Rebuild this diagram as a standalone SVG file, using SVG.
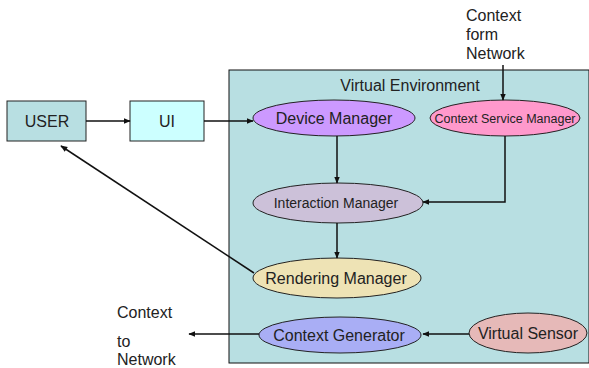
<svg xmlns="http://www.w3.org/2000/svg" width="589" height="368" viewBox="0 0 589 368">
<style>
text{font-family:"Liberation Sans",Arial,sans-serif;fill:#222;font-size:16px}
.c{text-anchor:middle}
.n{stroke:#222;stroke-width:1}
.e{stroke:#111;stroke-width:1.5;fill:none}
</style>
<defs>
<marker id="ah" viewBox="0 0 10 10" refX="9" refY="5" markerWidth="7" markerHeight="7" markerUnits="userSpaceOnUse" orient="auto">
<path d="M0,1 L10,5 L0,9 z" fill="#111"/>
</marker>
</defs>
<g id="virtual-environment">
<rect x="229" y="70" width="360" height="293" fill="#b8dfe2" stroke="#111" stroke-width="1"/>
<text class="c" x="410" y="91">Virtual Environment</text>
</g>
<g id="user"><rect class="n" x="7" y="101" width="79" height="40" fill="#b8dfe2"/><text class="c" x="47" y="127">USER</text></g>
<g id="ui"><rect class="n" x="130" y="101" width="74" height="40" fill="#ccffff"/><text class="c" x="167" y="127">UI</text></g>
<g id="device-manager"><ellipse class="n" cx="334" cy="118" rx="81" ry="18" fill="#cc99ff"/><text class="c" x="334" y="124">Device Manager</text></g>
<g id="context-service-manager"><ellipse class="n" cx="505" cy="118" rx="75" ry="18" fill="#ff99cc"/><text class="c" x="505" y="123" style="font-size:12.5px">Context Service Manager</text></g>
<g id="interaction-manager"><ellipse class="n" cx="338" cy="203" rx="85" ry="20" fill="#ccc1d9"/><text class="c" x="336" y="208" style="font-size:14px">Interaction Manager</text></g>
<g id="rendering-manager"><ellipse class="n" cx="337" cy="278" rx="84" ry="20" fill="#eee3b5"/><text class="c" x="336" y="284">Rendering Manager</text></g>
<g id="context-generator"><ellipse class="n" cx="340" cy="335" rx="81" ry="18" fill="#a9aef5"/><text class="c" x="339" y="341">Context Generator</text></g>
<g id="virtual-sensor"><ellipse class="n" cx="528" cy="333" rx="59" ry="20" fill="#e6b9b8"/><text class="c" x="528" y="339">Virtual Sensor</text></g>
<g id="context-from-network">
<text x="466" y="21">Context</text><text x="466" y="40">form</text><text x="466" y="59">Network</text>
</g>
<g id="context-to-network">
<text x="117" y="318">Context</text><text x="117" y="347">to</text><text x="117" y="365">Network</text>
</g>
<g id="connectors">
<line class="e" x1="86" y1="121" x2="130" y2="121" marker-end="url(#ah)"/>
<line class="e" x1="204" y1="121" x2="253" y2="121" marker-end="url(#ah)"/>
<line class="e" x1="503" y1="65" x2="503" y2="100" marker-end="url(#ah)"/>
<line class="e" x1="337" y1="136" x2="337" y2="183" marker-end="url(#ah)"/>
<polyline class="e" points="505,136 505,202 423,202" marker-end="url(#ah)"/>
<line class="e" x1="337" y1="223" x2="337" y2="258" marker-end="url(#ah)"/>
<line class="e" x1="254" y1="273" x2="61" y2="146" marker-end="url(#ah)"/>
<line class="e" x1="469" y1="334" x2="423" y2="334" marker-end="url(#ah)"/>
<line class="e" x1="259" y1="334" x2="189" y2="334" marker-end="url(#ah)"/>
</g>
</svg>
